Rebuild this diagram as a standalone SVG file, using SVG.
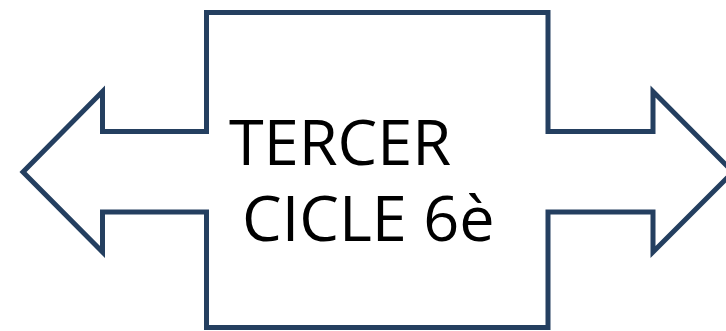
<svg xmlns="http://www.w3.org/2000/svg" width="726" height="331" viewBox="0 0 726 331">
<style>
.shape{fill:#ffffff;stroke:#243f60;stroke-width:5;stroke-linejoin:miter}
.lbl{font-family:"Open Sans","Liberation Sans",sans-serif;font-size:63px;fill:#000000}
</style>
<rect width="726" height="331" fill="#ffffff"/>
<g id="node-callout">
<polygon class="shape" points="206.5,12.5 548,12.5 548,131.5 653,131.5 653,91.5 733,172 653,252 653,212 548,212 548,327.5 206.5,327.5 206.5,212 102.5,212 102.5,252 23,172 102.5,91.5 102.5,131.5 206.5,131.5"/>
<text class="lbl" x="229" y="165">TERCER</text>
<text class="lbl" x="242" y="241">CICLE 6è</text>
</g>
<g id="connectors"></g>
</svg>
